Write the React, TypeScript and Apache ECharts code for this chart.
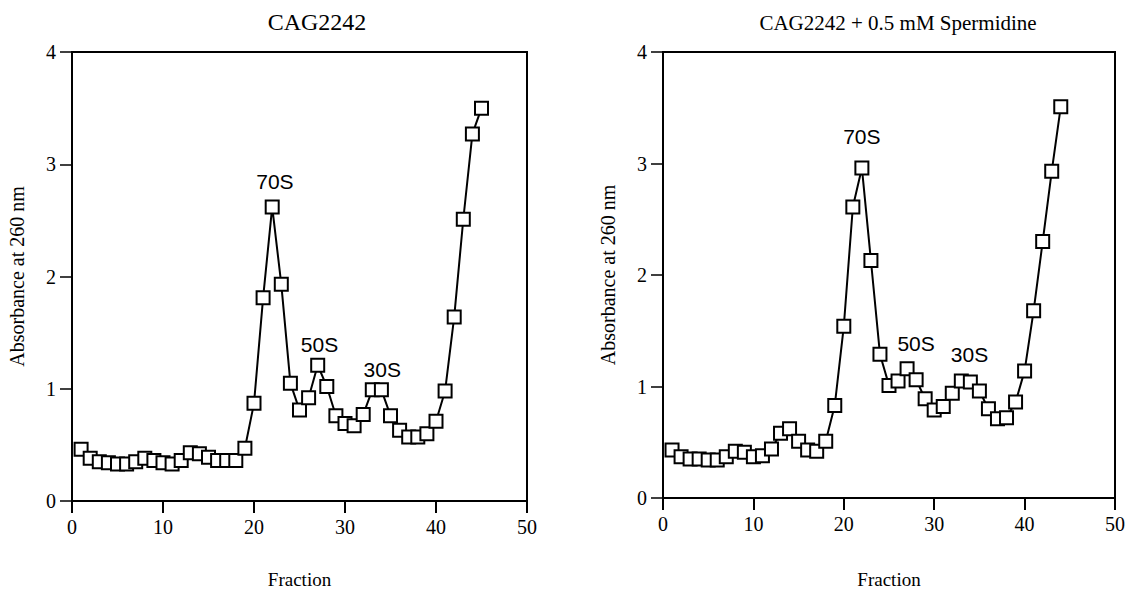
import React, { useEffect, useRef } from "react";
import * as echarts from "echarts";

// Left panel: CAG2242 (fractions 1..45)
const fractionsA = Array.from({ length: 45 }, (_, i) => i + 1);
const absorbanceA = [
  0.46, 0.38, 0.35, 0.34, 0.33, 0.33, 0.35, 0.38, 0.36, 0.34,
  0.33, 0.36, 0.43, 0.42, 0.39, 0.36, 0.36, 0.36, 0.47, 0.87,
  1.81, 2.62, 1.93, 1.05, 0.81, 0.92, 1.21, 1.02, 0.76, 0.69,
  0.67, 0.77, 0.99, 0.99, 0.76, 0.63, 0.57, 0.57, 0.6, 0.71,
  0.98, 1.64, 2.51, 3.27, 3.5,
];

// Right panel: CAG2242 + 0.5 mM Spermidine (fractions 1..44)
const fractionsB = Array.from({ length: 44 }, (_, i) => i + 1);
const absorbanceB = [
  0.43, 0.37, 0.35, 0.35, 0.34, 0.34, 0.37, 0.42, 0.41, 0.37,
  0.38, 0.44, 0.58, 0.62, 0.51, 0.43, 0.42, 0.51, 0.83, 1.54,
  2.61, 2.96, 2.13, 1.29, 1.01, 1.05, 1.16, 1.06, 0.89, 0.79,
  0.82, 0.94, 1.05, 1.04, 0.96, 0.8, 0.71, 0.72, 0.86, 1.14,
  1.68, 2.3, 2.93, 3.51,
];

// Peak annotations: [text, fraction, absorbance] where the label sits
const peakLabelsA: [string, number, number][] = [
  ["70S", 22.3, 2.85],
  ["50S", 27.2, 1.39],
  ["30S", 34.1, 1.17],
];
const peakLabelsB: [string, number, number][] = [
  ["70S", 22, 3.24],
  ["50S", 28, 1.39],
  ["30S", 33.9, 1.29],
];

const titles = ["CAG2242", "CAG2242 + 0.5 mM Spermidine"];
const xTicks = [0, 10, 20, 30, 40, 50];
const yTicks = [0, 1, 2, 3, 4];
const xName = "Fraction";
const yName = "Absorbance at 260 nm";

const SERIF = "'Liberation Serif', 'Times New Roman', serif";
const SANS = "'Liberation Sans', Arial, sans-serif";

export default function App() {
  const ref = useRef<HTMLDivElement>(null);
  useEffect(() => {
    if (!ref.current) return;
    const chart = echarts.init(ref.current, null, { renderer: "svg" });

    const grids = [
      { left: 72, top: 52, width: 455, height: 454 },
      { left: 663, top: 52, width: 454, height: 454 },
    ];

    const xAxis = grids.map((_, i) => ({
      type: "value",
      gridIndex: i,
      min: xTicks[0],
      max: xTicks[xTicks.length - 1],
      interval: 10,
      name: xName,
      nameLocation: "middle",
      nameGap: i === 0 ? 69 : 72,
      nameTextStyle: { fontFamily: SERIF, fontSize: 19, color: "#000" },
      axisLine: { show: true, onZero: false, lineStyle: { color: "#000", width: 2 } },
      axisTick: { show: true, length: 12, lineStyle: { color: "#000", width: 2 } },
      axisLabel: { fontFamily: SERIF, fontSize: 20, color: "#000", margin: 16 },
      splitLine: { show: false },
    }));

    const yAxis = grids.map((_, i) => ({
      type: "value",
      gridIndex: i,
      min: yTicks[0],
      max: yTicks[yTicks.length - 1],
      interval: 1,
      name: yName,
      nameLocation: "middle",
      nameGap: 45,
      nameTextStyle: { fontFamily: SERIF, fontSize: 20, color: "#000" },
      axisLine: { show: true, onZero: false, lineStyle: { color: "#000", width: 2 } },
      axisTick: { show: true, length: 12, lineStyle: { color: "#000", width: 1.5 } },
      axisLabel: { fontFamily: SERIF, fontSize: 20, color: "#000", margin: 16 },
      splitLine: { show: false },
    }));

    const lineSeries = (xs: number[], ys: number[], idx: number) => ({
      type: "line",
      xAxisIndex: idx,
      yAxisIndex: idx,
      data: xs.map((x, k) => [x, ys[k]]),
      symbol: "rect",
      symbolSize: 13,
      showAllSymbol: true,
      lineStyle: { color: "#000", width: 2 },
      itemStyle: { color: "#fff", borderColor: "#000", borderWidth: 2 },
      z: 3,
    });

    const labelSeries = (labels: [string, number, number][], idx: number) => ({
      type: "scatter",
      xAxisIndex: idx,
      yAxisIndex: idx,
      symbol: "circle",
      symbolSize: 2,
      itemStyle: { color: "rgba(255,255,255,0)" },
      data: labels.map(([t, x, y]) => ({ name: t, value: [x, y] })),
      label: {
        show: true,
        position: "inside",
        formatter: (p: any) => p.name,
        fontFamily: SANS,
        fontSize: 21,
        color: "#000",
        opacity: 1,
        textBorderWidth: 0,
      },
      silent: true,
      z: 4,
    });

    chart.setOption({
      animation: false,
      backgroundColor: "#fff",
      title: titles.map((t, i) => ({
        text: t,
        left: i === 0 ? 312 : 893,
        top: i === 0 ? 5 : 7,
        textAlign: "center",
        textStyle: {
          fontFamily: SERIF,
          fontSize: i === 0 ? 24 : 21,
          fontWeight: "normal",
          color: "#000",
        },
      })),
      grid: grids.map((g) => ({
        ...g,
        show: true,
        borderColor: "#000",
        borderWidth: 2,
        backgroundColor: "transparent",
      })),
      xAxis,
      yAxis,
      series: [
        lineSeries(fractionsA, absorbanceA, 0),
        lineSeries(fractionsB, absorbanceB, 1),
        labelSeries(peakLabelsA, 0),
        labelSeries(peakLabelsB, 1),
      ],
    });
    return () => chart.dispose();
  }, []);
  return (
    <div
      ref={ref}
      style={{ position: "fixed", left: 0, top: 0, width: 1128, height: 594, background: "#fff" }}
    />
  );
}
